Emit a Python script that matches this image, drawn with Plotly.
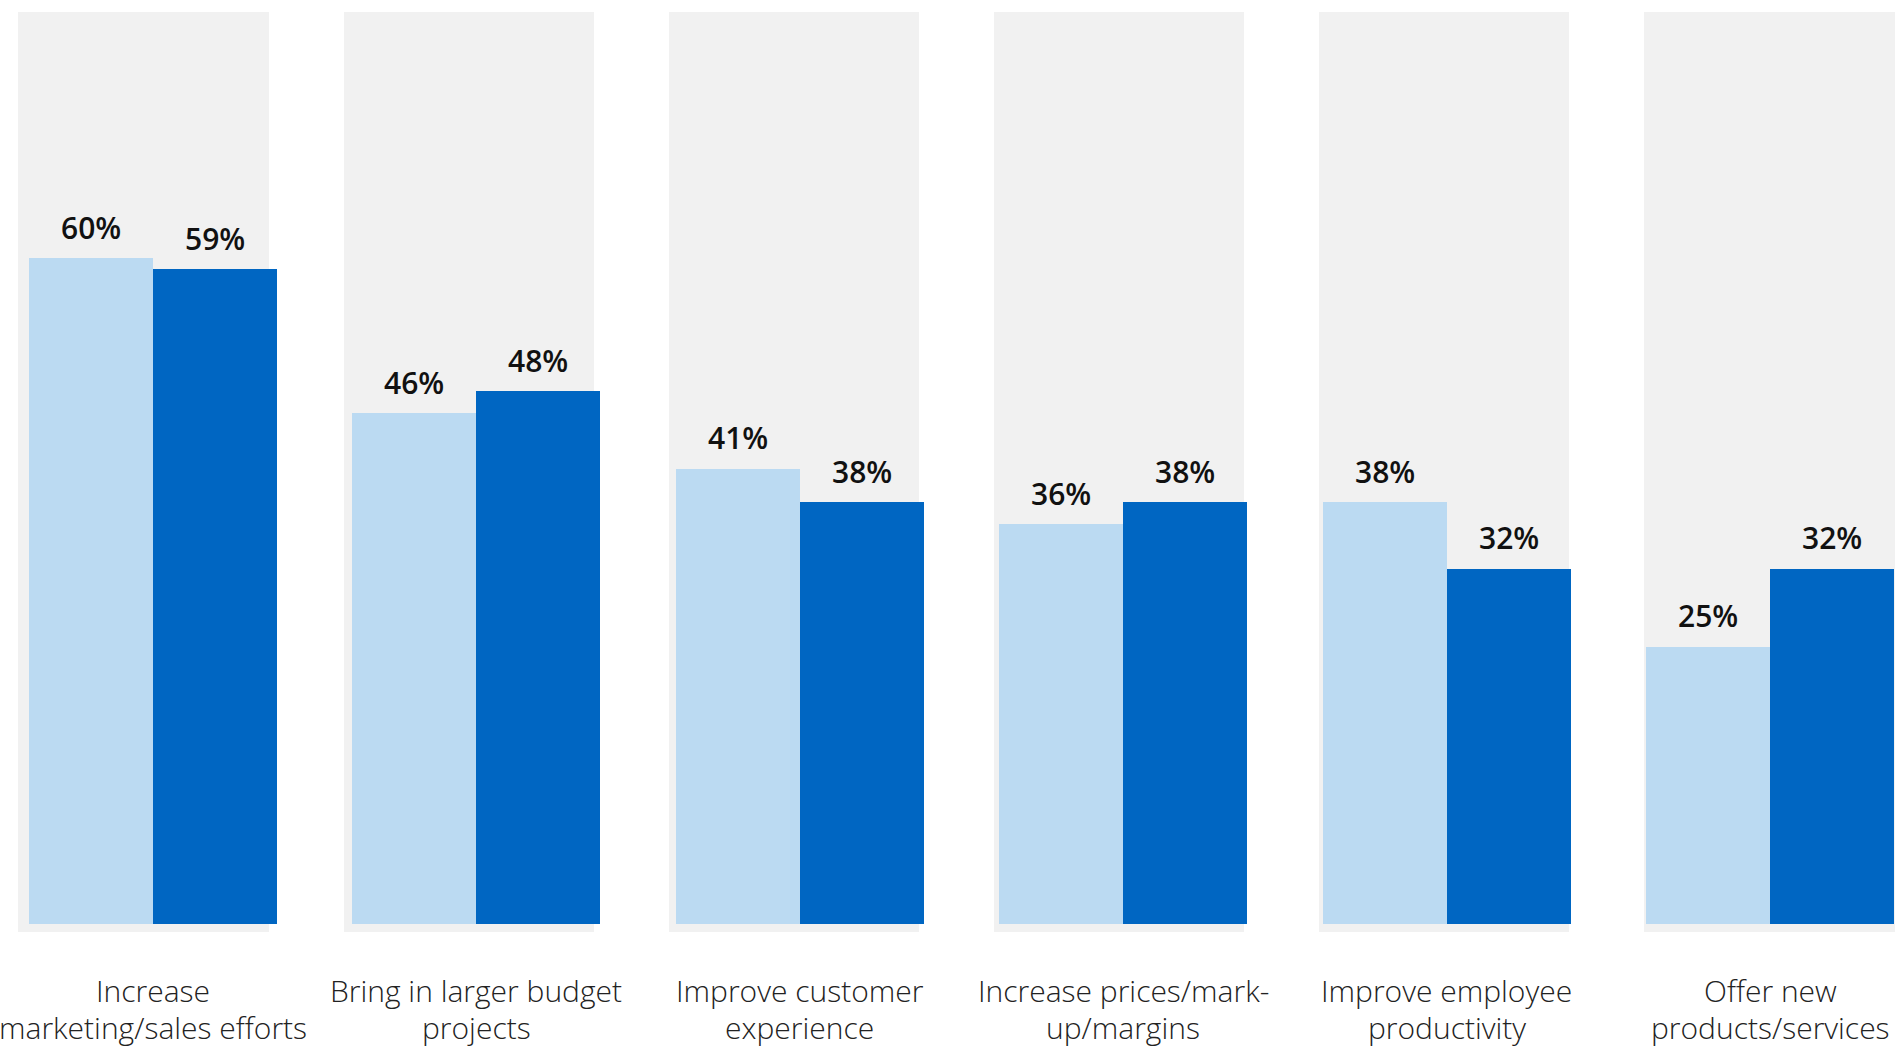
import plotly.graph_objects as go

categories = [
    "Increase<br>marketing/sales efforts",
    "Bring in larger budget<br>projects",
    "Improve customer<br>experience",
    "Increase prices/mark-<br>up/margins",
    "Improve employee<br>productivity",
    "Offer new<br>products/services",
]
series_a = [60, 46, 41, 36, 38, 25]   # light blue
series_b = [59, 48, 38, 38, 32, 32]   # dark blue
panel_top = 82.2
panel_base = -0.7

LIGHT = "#BBDAF2"
DARK = "#0066C2"
GRAY = "#F1F1F1"

xs = list(range(len(categories)))
bw = 0.3834

fig = go.Figure()
# background panels (main x axis, drawn below)
fig.add_trace(go.Bar(
    x=xs, y=[panel_top - panel_base] * len(xs), base=[panel_base] * len(xs),
    width=0.769, marker=dict(color=GRAY, line=dict(width=0)),
    xaxis="x", yaxis="y", hoverinfo="skip", showlegend=False,
))
fig.add_trace(go.Bar(
    x=xs, y=series_a, width=bw, offset=-bw,
    marker=dict(color=LIGHT, line=dict(width=0)),
    xaxis="x2", yaxis="y", showlegend=False,
))
fig.add_trace(go.Bar(
    x=xs, y=series_b, width=bw, offset=0,
    marker=dict(color=DARK, line=dict(width=0)),
    xaxis="x2", yaxis="y", showlegend=False,
))

annotations = []
line_y = [-5.95, -9.3]
for i in xs:
    for v, dx in ((series_a[i], -bw / 2), (series_b[i], bw / 2)):
        annotations.append(dict(
            x=i + dx, y=v, xref="x2", yref="y", text=f"{v}%",
            showarrow=False, yanchor="middle", xanchor="center", yshift=31,
            font=dict(family="Open Sans", size=30, color="#111111", weight=600),
        ))
    for k, line in enumerate(categories[i].split("<br>")):
        annotations.append(dict(
            x=i, y=line_y[k], xref="x2", yref="y", text=line,
            showarrow=False, yanchor="middle", xanchor="center",
            font=dict(family="Open Sans", size=30, color="#222222", weight=300),
        ))

fig.update_layout(
    width=1895, height=1049,
    margin=dict(l=0, r=0, t=0, b=0),
    paper_bgcolor="white", plot_bgcolor="white",
    barmode="overlay", bargap=0,
    xaxis=dict(range=[-0.4413, 5.3859], visible=False, fixedrange=True),
    xaxis2=dict(range=[-0.4731, 5.3865], visible=False, overlaying="x", fixedrange=True),
    yaxis=dict(range=[-11.261, 83.243], visible=False, fixedrange=True),
    annotations=annotations,
)

fig.write_html("out.html")
